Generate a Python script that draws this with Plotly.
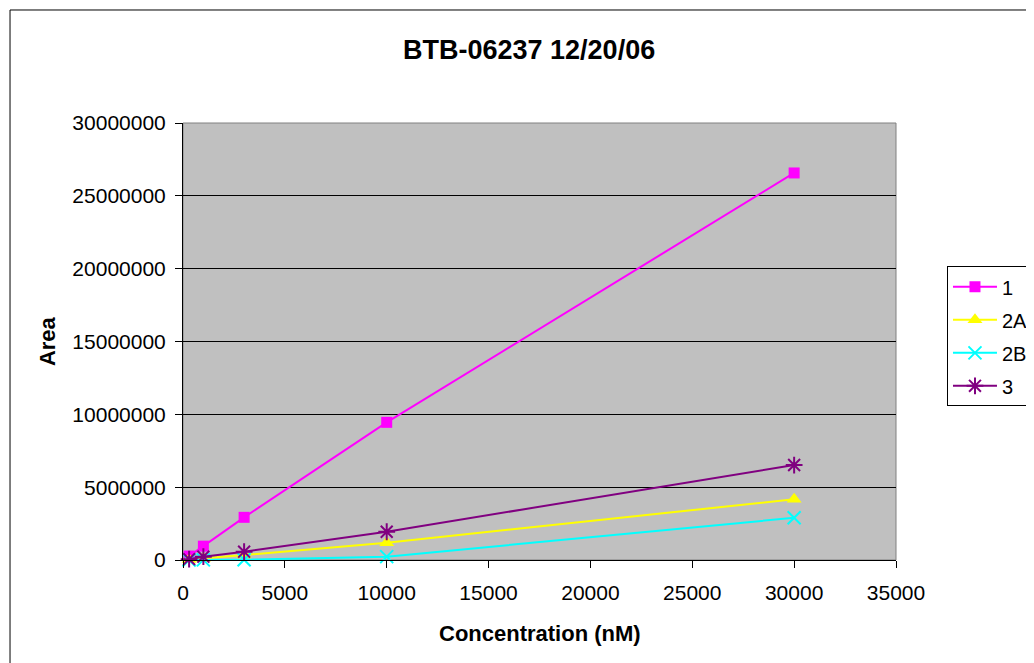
import plotly.graph_objects as go

# Data
concentration = [300, 1000, 3000, 10000, 30000]
series_names = ["1", "2A", "2B", "3"]
area_1 = [270000, 950000, 2930000, 9450000, 26570000]
area_2A = [30000, 110000, 340000, 1190000, 4170000]
area_2B = [5000, 10000, 20000, 230000, 2900000]
area_3 = [60000, 230000, 570000, 1940000, 6520000]

title_text = "BTB-06237 12/20/06"
x_title = "Concentration (nM)"
y_title = "Area"

colors = ["#FF00FF", "#FFFF00", "#00FFFF", "#800080"]
symbols = ["square", "triangle-up", "x-thin-open", "asterisk-open"]
sizes = [11, 13, 13, 14]
values = [area_1, area_2A, area_2B, area_3]

fig = go.Figure()
for name, vals, col, sym, sz in zip(series_names, values, colors, symbols, sizes):
    marker = dict(symbol=sym, size=sz, color=col)
    if sym.endswith("open"):
        marker["line"] = dict(color=col, width=2)
    fig.add_trace(go.Scatter(
        x=concentration, y=vals, name=name, mode="lines+markers",
        line=dict(color=col, width=2), marker=marker, cliponaxis=False,
        legendgroup=name,
    ))

font_family = "Liberation Sans, Arial, sans-serif"

# page body has an 8px margin, so the figure is sized/shifted to compensate
fig.update_layout(
    width=1026, height=655,
    margin=dict(l=175, r=138, t=115, b=103, autoexpand=False),
    paper_bgcolor="white",
    plot_bgcolor="#C0C0C0",
    font=dict(family=font_family, color="black", size=21),
    showlegend=True,
    legend=dict(
        x=1.0715, y=0.672, xanchor="left", yanchor="top",
        bordercolor="black", borderwidth=1, bgcolor="white",
        font=dict(size=20, family=font_family, color="black"),
        tracegroupgap=4, itemwidth=44,
    ),
    xaxis=dict(
        range=[0, 35000], dtick=5000, tick0=0, showgrid=False, zeroline=False,
        showline=True, linecolor="black", linewidth=1,
        ticks="outside", ticklen=7, tickcolor="black",
        tickformat="d", tickfont=dict(size=21), ticklabelstandoff=7,
    ),
    yaxis=dict(
        range=[0, 30000000], dtick=5000000, tick0=0, showgrid=True,
        gridcolor="black", gridwidth=1, zeroline=False,
        showline=True, linecolor="black", linewidth=1,
        ticks="outside", ticklen=7, tickcolor="black",
        tickformat="d", tickfont=dict(size=21), ticklabelstandoff=5,
    ),
    shapes=[
        # plot area border (top/right gray)
        dict(type="rect", xref="paper", yref="paper", x0=0, x1=1, y0=0, y1=1,
             line=dict(color="#808080", width=1), layer="below"),
        # chart outer border
        dict(type="rect", xref="paper", yref="paper", x0=-0.2426, x1=1.3,
             y0=-0.3, y1=1.2586, line=dict(color="black", width=1)),
    ],
    annotations=[
        dict(text="<b>" + title_text + "</b>", xref="paper", yref="paper",
             x=0.4853, y=1.167, xanchor="center", yanchor="middle",
             showarrow=False, font=dict(size=27, family=font_family)),
        dict(text="<b>" + x_title + "</b>", xref="paper", yref="paper",
             x=0.5007, y=-0.1693, xanchor="center", yanchor="middle",
             showarrow=False, font=dict(size=22, family=font_family)),
        dict(text="<b>" + y_title + "</b>", xref="paper", yref="paper",
             x=-0.1907, y=0.501, xanchor="center", yanchor="middle",
             textangle=-90, showarrow=False, font=dict(size=22, family=font_family)),
    ],
)

fig.write_html("out.html")
